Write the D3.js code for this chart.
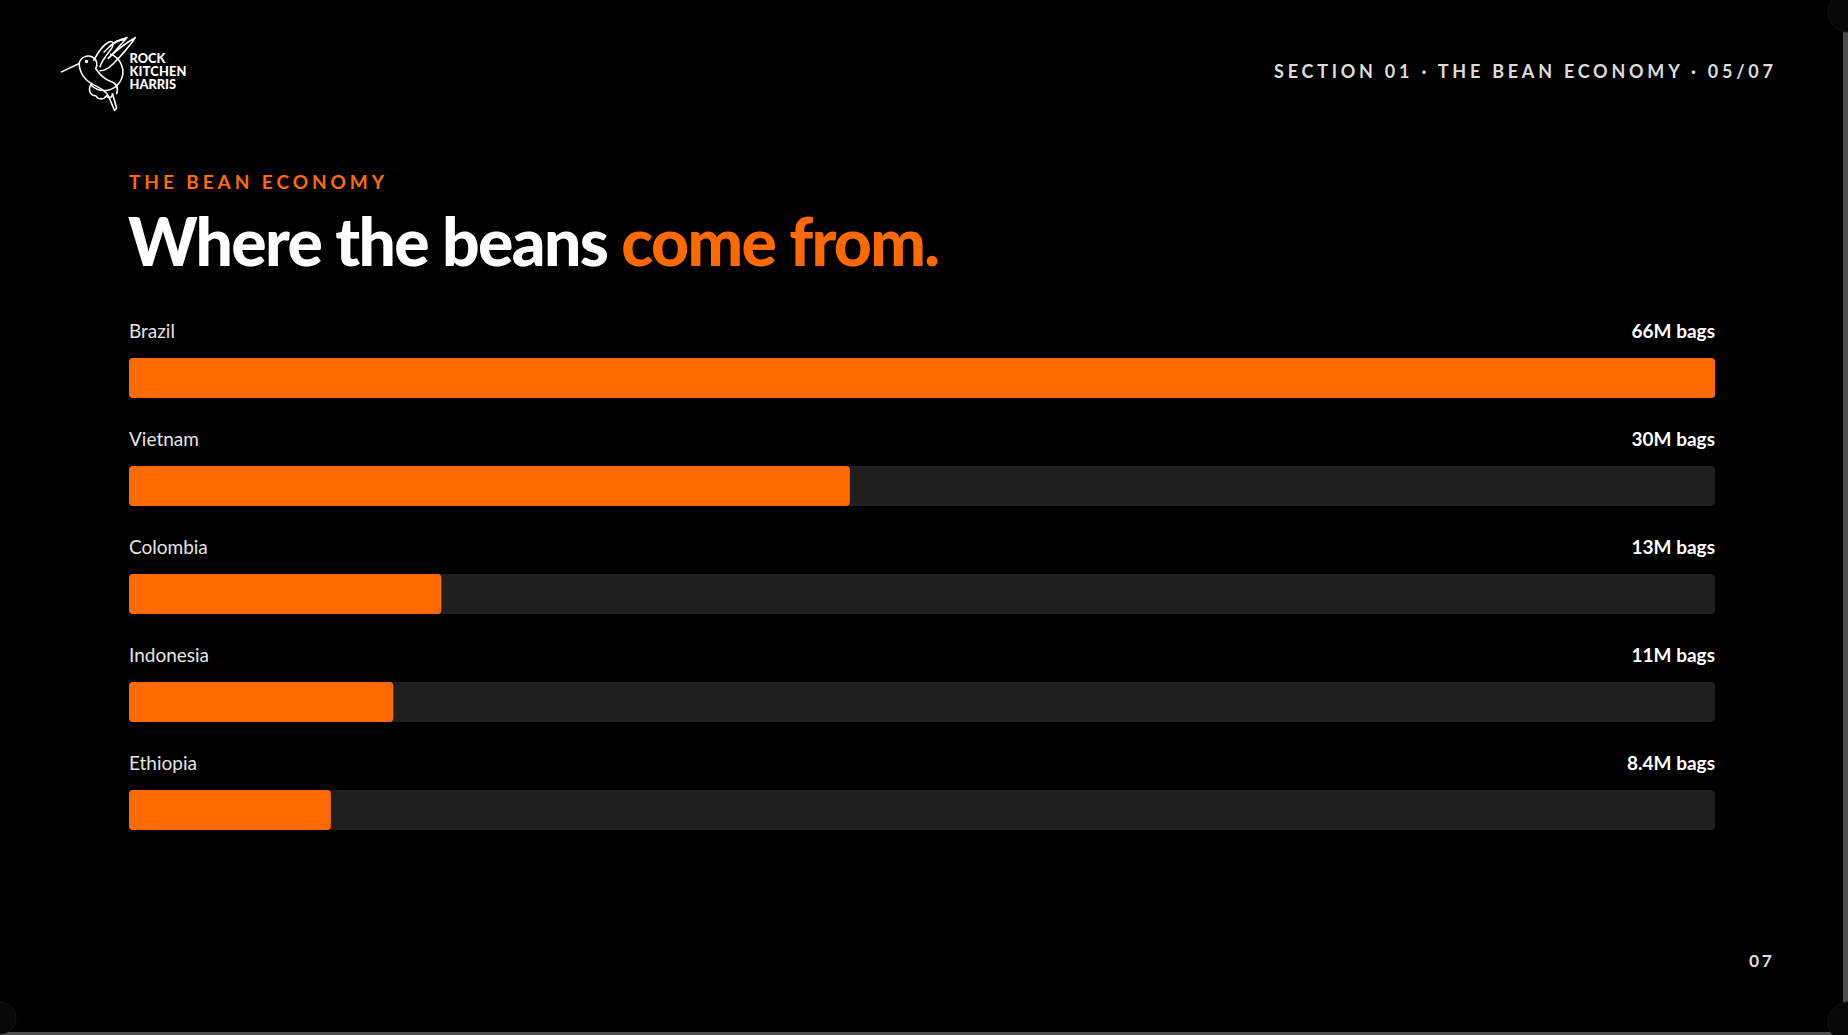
<!DOCTYPE html>
<html>
<head>
<meta charset="utf-8">
<script src="https://cdn.jsdelivr.net/npm/d3@7"></script>
<style>
  html, body { margin: 0; padding: 0; background: #000; overflow: hidden; }
  svg { display: block; }
</style>
</head>
<body>
<svg id="chart" width="1848" height="1035"></svg>
<script>
// ---- data ----
const countries = ["Brazil", "Vietnam", "Colombia", "Indonesia", "Ethiopia"];
const values = [66, 30, 13, 11, 8.4];
const valueLabels = ["66M bags", "30M bags", "13M bags", "11M bags", "8.4M bags"];
const eyebrowText = "THE BEAN ECONOMY";
const titleWhite = "Where the beans ";
const titleOrange = "come from.";
const headerText = "SECTION 01 \u00B7 THE BEAN ECONOMY \u00B7 05/07";
const pageNumber = "07";
const logoLines = ["ROCK", "KITCHEN", "HARRIS"];

const ORANGE = "#ff6a00";
const TRACK = "#1f1f1f";
const FONT = "Lato, 'Open Sans', sans-serif";

const svg = d3.select("#chart");
const W = 1848, H = 1035;

svg.append("rect").attr("width", W).attr("height", H).attr("fill", "#000");

function fitSpacing(sel, target) {
  sel.attr("letter-spacing", 0);
  const node = sel.node();
  const n = node.getNumberOfChars();
  const w0 = node.getComputedTextLength();
  const ls = (target - w0) / Math.max(1, n - 1);
  sel.attr("letter-spacing", ls);
}

// ---- logo ----
const logo = svg.append("g").attr("fill", "none").attr("stroke", "#fff")
  .attr("stroke-width", 1.5).attr("stroke-linecap", "round").attr("stroke-linejoin", "round")
  .attr("transform", "translate(-4,-2) scale(1.04)");
logo.append("path").attr("d", d3.arc()({innerRadius: 18, outerRadius: 18, startAngle: 0.35, endAngle: 3.9})).attr("transform", "translate(104,71)");
logo.append("path").attr("d", "M63,71 L80,63");
logo.append("path").attr("d", "M80,63 C81,57 88,54 93,57 C97,59 98,64 96,68");
logo.append("circle").attr("cx", 87).attr("cy", 61).attr("r", 0.9).attr("fill", "#fff");
logo.append("path").attr("d", "M80,63 C80,72 86,80 95,84 C101,87 106,90 108,94");
logo.append("path").attr("d", "M96,68 C100,74 104,78 110,80 C116,82 118,86 116,92");
logo.append("path").attr("d", "M94,60 C98,52 103,45 109,42 C113,41 114,45 110,50 C106,55 102,60 100,66");
logo.append("path").attr("d", "M104,52 C110,45 118,40 126,38 C120,45 114,52 108,58");
logo.append("path").attr("d", "M108,58 C116,50 124,44 134,38 C128,47 120,56 112,64 C108,68 104,70 100,70");
logo.append("path").attr("d", "M110,46 C114,42 120,40 124,40");
logo.append("path").attr("d", "M92,82 C88,88 90,94 96,94 C98,98 104,98 106,94 C108,97 112,96 112,92");
logo.append("path").attr("d", "M108,94 L114,108 L116,106 L112,92");

const logoText = svg.append("g").attr("font-family", FONT).attr("font-weight", 900)
  .attr("font-size", 12.8).attr("fill", "#fff");
logoLines.forEach((t, i) => {
  const tx = logoText.append("text").attr("x", 129.5).attr("y", 62.5 + i * 13).text(t);
  if (t === "KITCHEN") fitSpacing(tx, 57);
});

// ---- header ----
const header = svg.append("text")
  .attr("x", 1274).attr("y", 77.5)
  .attr("font-family", FONT).attr("font-weight", 700).attr("font-size", 18)
  .attr("fill", "#dcdcdc").text(headerText);
fitSpacing(header, 499);

// ---- eyebrow ----
const eyebrow = svg.append("text")
  .attr("x", 129).attr("y", 188.5)
  .attr("font-family", FONT).attr("font-weight", 700).attr("font-size", 19)
  .attr("fill", ORANGE).text(eyebrowText);
fitSpacing(eyebrow, 255);

// ---- title ----
const title = svg.append("text")
  .attr("x", 128).attr("y", 266)
  .attr("font-family", FONT).attr("font-weight", 900).attr("font-size", 66)
  .attr("fill", "#fff");
title.append("tspan").text(titleWhite);
title.append("tspan").attr("fill", ORANGE).text(titleOrange);
fitSpacing(title, 812);

// ---- bars ----
const x = d3.scaleLinear().domain([0, d3.max(values)]).range([129, 1715]);
const y = d3.scaleBand().domain(countries).range([358, 358 + 108 * countries.length]).paddingInner(0).paddingOuter(0);
const barH = 40;

const data = countries.map((c, i) => ({ c, v: values[i], label: valueLabels[i] }));
const rows = svg.append("g").selectAll("g").data(data).join("g");

rows.append("rect")
  .attr("x", x(0)).attr("y", d => y(d.c))
  .attr("width", x.range()[1] - x(0)).attr("height", barH)
  .attr("rx", 4).attr("fill", TRACK);

rows.append("rect")
  .attr("x", x(0)).attr("y", d => y(d.c))
  .attr("width", d => x(d.v) - x(0)).attr("height", barH)
  .attr("rx", 4).attr("fill", ORANGE);

rows.append("text")
  .attr("x", x(0)).attr("y", d => y(d.c) - 20)
  .attr("font-family", FONT).attr("font-weight", 400).attr("font-size", 19)
  .attr("fill", "#e4e4e4").text(d => d.c);

rows.append("text")
  .attr("x", x.range()[1]).attr("y", d => y(d.c) - 20)
  .attr("text-anchor", "end")
  .attr("font-family", FONT).attr("font-weight", 700).attr("font-size", 19)
  .attr("fill", "#fff").text(d => d.label);

// ---- page number ----
const pn = svg.append("text")
  .attr("x", 1749).attr("y", 966.5)
  .attr("font-family", FONT).attr("font-weight", 700).attr("font-size", 17.5)
  .attr("fill", "#dcdcdc").text(pageNumber);
fitSpacing(pn, 23);

// ---- viewer chrome edges ----
svg.append("rect").attr("x", 1843).attr("y", 0).attr("width", 5).attr("height", H).attr("fill", "#4d4d4d");
svg.append("rect").attr("x", 0).attr("y", 1032).attr("width", W).attr("height", 3).attr("fill", "#4d4d4d");
svg.append("circle").attr("cx", 1848).attr("cy", 12).attr("r", 20).attr("fill", "#070707").attr("stroke", "#141414");
svg.append("circle").attr("cx", 1848).attr("cy", 1022).attr("r", 20).attr("fill", "#070707").attr("stroke", "#141414");
svg.append("circle").attr("cx", 0).attr("cy", 1018).attr("r", 16).attr("fill", "#070707").attr("stroke", "#141414");
</script>
</body>
</html>
